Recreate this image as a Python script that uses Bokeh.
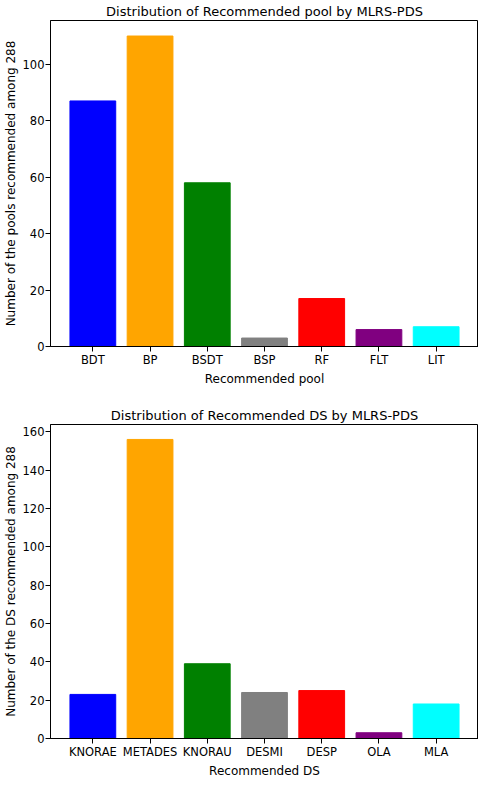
from bokeh.plotting import figure
from bokeh.models import ColumnDataSource, Range1d, FixedTicker
from bokeh.layouts import column
from bokeh.embed import file_html
from bokeh.resources import INLINE

pool_names = ["BDT", "BP", "BSDT", "BSP", "RF", "FLT", "LIT"]
pool_counts = [87, 110, 58, 3, 17, 6, 7]
ds_names = ["KNORAE", "METADES", "KNORAU", "DESMI", "DESP", "OLA", "MLA"]
ds_counts = [23, 156, 39, 24, 25, 3, 18]
bar_colors = ["#0000ff", "#ffa500", "#008000", "#808080", "#ff0000", "#800080", "#00ffff"]
pool_yticks = [0, 20, 40, 60, 80, 100]
ds_yticks = [0, 20, 40, 60, 80, 100, 120, 140, 160]

FONT = "DejaVu Sans"


def make_plot(names, counts, yticks, title, xlabel, ylabel, height, top, bottom):
    xs = list(range(len(names)))
    src = ColumnDataSource(dict(x=xs, top=counts, color=bar_colors))
    n = len(names)
    pad = 0.05 * (n - 1 + 0.8)
    p = figure(width=478, height=height, output_backend="svg", toolbar_location=None,
               x_range=Range1d(-0.4 - pad, n - 1 + 0.4 + pad),
               y_range=Range1d(0, max(counts) * 1.05),
               min_border_left=40, min_border_right=0,
               min_border_top=top, min_border_bottom=bottom)
    p.vbar(x="x", top="top", width=0.8, color="color", source=src)
    p.title.text = title
    p.title.align = "center"
    p.title.text_font = FONT
    p.title.text_font_size = "13px"
    p.title.text_font_style = "normal"
    p.title.text_color = "black"
    p.title.standoff = 3
    p.xgrid.visible = False
    p.ygrid.visible = False
    p.outline_line_color = "black"
    p.outline_line_width = 1
    p.outline_line_alpha = 1
    p.xaxis.ticker = FixedTicker(ticks=xs)
    p.xaxis.major_label_overrides = {i: nm for i, nm in enumerate(names)}
    p.yaxis.ticker = FixedTicker(ticks=yticks)
    p.xaxis.axis_label = xlabel
    p.yaxis.axis_label = ylabel
    for ax in (p.xaxis, p.yaxis):
        ax.axis_line_color = "black"
        ax.major_tick_line_color = "black"
        ax.major_tick_out = 5
        ax.major_tick_in = 0
        ax.minor_tick_line_color = None
        ax.major_label_text_font = FONT
        ax.major_label_text_font_size = "11.5px"
        ax.major_label_text_color = "black"
        ax.major_label_standoff = 1
        ax.axis_label_text_font = FONT
        ax.axis_label_text_font_size = "12px"
        ax.axis_label_text_font_style = "normal"
        ax.axis_label_text_color = "black"
        ax.axis_label_standoff = 2
    return p


p1 = make_plot(pool_names, pool_counts, pool_yticks,
               "Distribution of Recommended pool by MLRS-PDS", "Recommended pool",
               "Number of the pools recommended among 288", 388, 14, 36)
p2 = make_plot(ds_names, ds_counts, ds_yticks,
               "Distribution of Recommended DS by MLRS-PDS", "Recommended DS",
               "Number of the DS recommended among 288", 392, 36, 30)

layout = column(p1, p2, spacing=0)
open("out.html", "w").write(file_html(layout, INLINE))
